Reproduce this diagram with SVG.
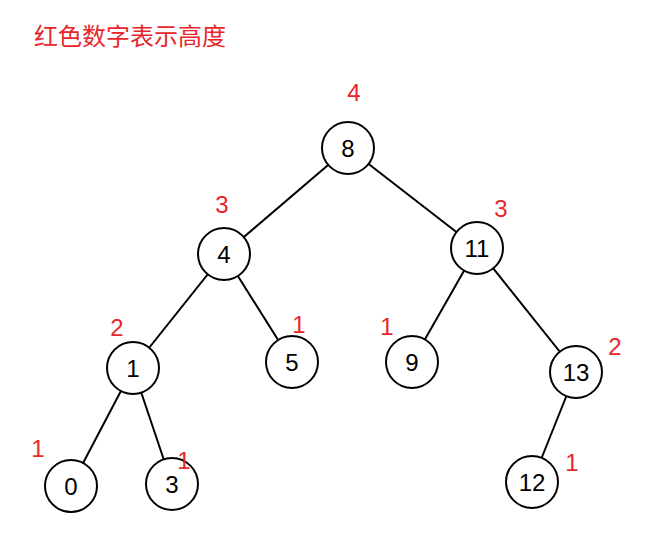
<svg xmlns="http://www.w3.org/2000/svg" width="652" height="536" viewBox="0 0 652 536">
<style>
circle{fill:#fff;stroke:#000;stroke-width:2}
.n{font-family:"Liberation Sans",Arial,sans-serif;font-size:24px;text-anchor:middle;dominant-baseline:central}
.r{font-family:"Liberation Sans","Noto Sans CJK SC",sans-serif;font-size:24px;fill:#e8262a;text-anchor:middle;dominant-baseline:central}
line{stroke:#000;stroke-width:2}
</style>
<rect width="652" height="536" fill="#fff"/>
<g id="connectors">
<line x1="348" y1="148" x2="224" y2="254"/>
<line x1="348" y1="148" x2="477" y2="248"/>
<line x1="224" y1="254" x2="133" y2="368"/>
<line x1="224" y1="254" x2="292" y2="362"/>
<line x1="477" y1="248" x2="412" y2="362"/>
<line x1="477" y1="248" x2="576" y2="372"/>
<line x1="133" y1="368" x2="71" y2="486"/>
<line x1="133" y1="368" x2="172" y2="484"/>
<line x1="576" y1="372" x2="532" y2="482"/>
</g>
<g id="n8"><circle cx="348" cy="148" r="26"/><text class="n" x="348" y="148">8</text></g>
<g id="n4"><circle cx="224" cy="254" r="26"/><text class="n" x="224" y="254">4</text></g>
<g id="n11"><circle cx="477" cy="248" r="26"/><text class="n" x="477" y="248">11</text></g>
<g id="n1"><circle cx="133" cy="368" r="26"/><text class="n" x="133" y="368">1</text></g>
<g id="n5"><circle cx="292" cy="362" r="26"/><text class="n" x="292" y="362">5</text></g>
<g id="n9"><circle cx="412" cy="362" r="26"/><text class="n" x="412" y="362">9</text></g>
<g id="n13"><circle cx="576" cy="372" r="26"/><text class="n" x="576" y="372">13</text></g>
<g id="n0"><circle cx="71" cy="486" r="26"/><text class="n" x="71" y="486">0</text></g>
<g id="n3"><circle cx="172" cy="484" r="26"/><text class="n" x="172" y="484">3</text></g>
<g id="n12"><circle cx="532" cy="482" r="26"/><text class="n" x="532" y="482">12</text></g>
<g id="labels">
<text class="r" x="130" y="36" style="text-anchor:middle">红色数字表示高度</text>
<text class="r" x="354" y="92">4</text>
<text class="r" x="222" y="204">3</text>
<text class="r" x="501" y="208">3</text>
<text class="r" x="117" y="327">2</text>
<text class="r" x="299" y="324">1</text>
<text class="r" x="387" y="326">1</text>
<text class="r" x="615" y="346">2</text>
<text class="r" x="38" y="448">1</text>
<text class="r" x="184" y="460">1</text>
<text class="r" x="572" y="462">1</text>
</g>
</svg>
